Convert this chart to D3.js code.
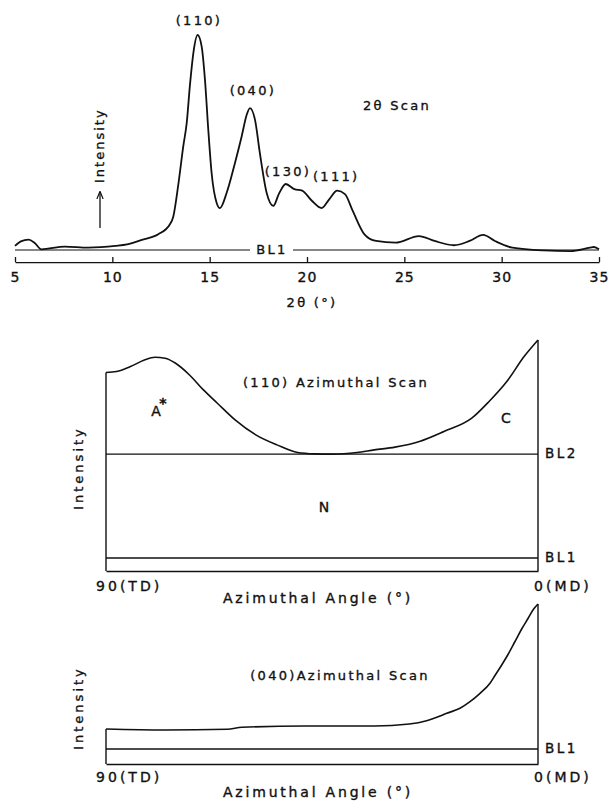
<!DOCTYPE html>
<html><head><meta charset="utf-8">
<script src="https://cdn.jsdelivr.net/npm/d3@7"></script>
<style>
body{margin:0;background:#fff}
svg{display:block;background:#fff}
text{font-family:"DejaVu Sans",sans-serif;fill:#111;stroke:#111;stroke-width:0.35px;font-size:13px;letter-spacing:2.3px}
</style>
</head><body><svg id="c" width="608" height="801"></svg>
<script>
// ---------- 2θ scan ----------
const scanTheta = [5.0,5.3,5.7,6.0,6.36,7.56,8.76,10.16,10.76,11.56,12.36,12.96,13.13,13.39,13.64,13.82,13.99,14.16,14.38,14.59,14.76,14.93,15.10,15.36,15.53,15.87,16.30,16.64,16.90,17.07,17.33,17.58,17.93,18.27,18.55,18.91,19.35,19.75,20.25,20.75,21.15,21.55,21.95,22.35,22.95,23.55,24.55,25.75,26.55,27.55,28.35,29.05,29.65,30.55,32.15,33.54,34.54,34.74,35.0];
const scanIntensity = [1.9,4.0,4.8,3.4,0.3,1.6,1.1,1.9,2.6,4.8,7.3,12.0,15.5,30.5,48,59,77,91.5,100,94.6,79,55.8,35.8,21.9,19.5,26.5,40.5,52.7,62.8,66,60.5,45,26.5,20.5,26.0,30.7,28.3,27.6,22.9,19.5,23.7,27.6,26.0,18.2,7.3,4.2,3.4,6.5,4.2,2.2,4.2,7.0,4.2,1.1,-0.2,-0.5,1.1,1.4,0.3];
const thetaTicks = [5,10,15,20,25,30,35];
const peakNames = ["(110)","(040)","(130)","(111)"];
const peakLabelTheta = [14.45,17.22,19.02,21.5];
const peakLabelIntensity = [106.5,73.5,36,33.6];

// ---------- (110) azimuthal scan ----------
const az110Angle = [90,87.8,84.9,82.0,79.8,77.7,75.5,72.6,69.7,66.8,63.1,58.8,54.4,50.1,46.5,42.8,37.7,34.1,29.8,24.7,19.6,13.8,10.2,6.5,2.9,0];
const az110Intensity = [185.7,186.7,191.7,198.3,201,200,195,183.3,168.3,155,138.3,123.3,113.3,105.7,104.3,104,105.7,108.3,111,116.7,126.7,140,156.7,176.7,201.7,218.3];
const az110Baselines = [0,104];
const az110BaselineNames = ["BL1","BL2"];

// ---------- (040) azimuthal scan ----------
const az040Angle = [90,77.8,64.7,61.7,48.6,34.1,26.8,23.2,20.42,19.02,16.25,14.17,12.08,10.0,8.96,7.56,6.19,4.79,3.40,2.02,0.98,0];
const az040Intensity = [20,19,19.7,21.7,23,23,25,28.3,33,35.7,40.7,47.3,55.7,65.7,73.5,84,95,107.5,120,131,139.5,145];
const az040Baselines = [0];
const az040BaselineNames = ["BL1"];

const azTicks = [90,0];
const azTickLabels = ["90(TD)","0(MD)"];

const svg = d3.select("#c");
const ink = "#111";

// ================= TOP PANEL =================
const xT = d3.scaleLinear().domain([5,35]).range([15,599]);
const yT = d3.scaleLinear().domain([0,100]).range([250,35]);
const axisYT = yT(-5.6);

const gAx = svg.append("g").attr("transform",`translate(0,${axisYT})`)
  .call(d3.axisBottom(xT).tickValues(thetaTicks).tickSizeInner(-5).tickSizeOuter(0).tickPadding(10).tickFormat(d3.format("d")));
gAx.select(".domain").attr("stroke",ink).attr("stroke-width",1.3);
gAx.selectAll(".tick line").attr("stroke",ink).attr("stroke-width",1.3);
gAx.selectAll(".tick text").style("font-size","14px").style("letter-spacing","1px").attr("fill",ink).attr("font-family",null);

svg.append("text").attr("x",312).attr("y",303).attr("text-anchor","middle").attr("dominant-baseline","middle").text("2θ (°)");

// BL1 line with gap for label
svg.append("line").attr("x1",xT(5)).attr("x2",250).attr("y1",yT(0)).attr("y2",yT(0)).attr("stroke",ink).attr("stroke-width",1.2);
svg.append("line").attr("x1",293).attr("x2",xT(35)).attr("y1",yT(0)).attr("y2",yT(0)).attr("stroke",ink).attr("stroke-width",1.2);
svg.append("text").attr("x",272).attr("y",yT(0)).attr("text-anchor","middle").attr("dominant-baseline","middle").text("BL1");

const lineT = d3.line().x((d,i)=>xT(scanTheta[i])).y((d,i)=>yT(scanIntensity[i])).curve(d3.curveMonotoneX);
svg.append("path").datum(scanTheta).attr("d",lineT).attr("fill","none").attr("stroke",ink).attr("stroke-width",1.8);

peakNames.forEach((n,i)=>{
  svg.append("text").attr("x",xT(peakLabelTheta[i])).attr("y",yT(peakLabelIntensity[i]))
    .attr("text-anchor","middle").attr("dominant-baseline","middle").text(n);
});
svg.append("text").attr("x",397).attr("y",106).attr("text-anchor","middle").attr("dominant-baseline","middle").text("2θ Scan");

// Intensity arrow label
svg.append("defs").append("marker").attr("id","ah").attr("viewBox","0 0 10 10").attr("refX",9).attr("refY",5)
  .attr("markerWidth",6).attr("markerHeight",6).attr("orient","auto")
  .append("path").attr("d","M0,1L10,5L0,9").attr("fill","none").attr("stroke",ink).attr("stroke-width",1.5);
svg.append("line").attr("x1",100).attr("x2",100).attr("y1",228).attr("y2",192).attr("stroke",ink).attr("stroke-width",1.3).attr("marker-end","url(#ah)");
svg.append("text").attr("transform","translate(100,183) rotate(-90)").attr("text-anchor","start").attr("dominant-baseline","middle").style("letter-spacing","2px").text("Intensity");

// ================= AZIMUTHAL PANELS =================
function azPanel(opts){
  const x = d3.scaleLinear().domain([90,0]).range([106,538]);
  const y = d3.scaleLinear().domain(opts.domain).range(opts.range);
  const angles = opts.angle, vals = opts.val;
  const floor = opts.domain[0];
  const g = svg.append("g").attr("transform",`translate(0,${y(floor)})`)
    .call(d3.axisBottom(x).tickValues(azTicks).tickSize(0).tickSizeOuter(0).tickPadding(opts.tickPad).tickFormat((d,i)=>azTickLabels[i]));
  g.select(".domain").attr("stroke",ink).attr("stroke-width",1.3);
  g.selectAll(".tick text").attr("font-family",null).attr("fill",ink)
    .style("font-size","14px").style("letter-spacing","3px").attr("text-anchor","start")
    .each(function(d,i){
      const lab = azTickLabels[i];
      const n = lab.indexOf("(");
      const w = this.getSubStringLength(0,n);
      d3.select(this).attr("x",-(w-3)/2);
    });
  svg.append("line").attr("x1",x(90)).attr("x2",x(90)).attr("y1",y(floor)).attr("y2",y(vals[0])).attr("stroke",ink).attr("stroke-width",1.4);
  svg.append("line").attr("x1",x(0)).attr("x2",x(0)).attr("y1",y(floor)).attr("y2",y(vals[vals.length-1])).attr("stroke",ink).attr("stroke-width",1.4);
  opts.bl.forEach((b,i)=>{
    svg.append("line").attr("x1",x(90)).attr("x2",x(0)).attr("y1",y(b)).attr("y2",y(b)).attr("stroke",ink).attr("stroke-width",1.3);
    svg.append("text").attr("x",x(0)+7).attr("y",y(b)).attr("dominant-baseline","middle").style("font-size","13.5px").style("letter-spacing","2.5px").text(opts.blNames[i]);
  });
  const ln = d3.line().x((d,i)=>x(angles[i])).y((d,i)=>y(vals[i])).curve(d3.curveMonotoneX);
  svg.append("path").datum(angles).attr("d",ln).attr("fill","none").attr("stroke",ink).attr("stroke-width",1.6);
  svg.append("text").attr("x",opts.titleX).attr("y",opts.titleY).attr("text-anchor","middle").attr("dominant-baseline","middle").style("font-size","13px").style("letter-spacing","2.3px").text(opts.title);
  svg.append("text").attr("x",318).attr("y",opts.xlabY).attr("text-anchor","middle").attr("dominant-baseline","middle").style("font-size","14px").style("letter-spacing","2.8px").text("Azimuthal Angle (°)");
  svg.append("text").attr("transform",`translate(79,${opts.ylabY}) rotate(-90)`).attr("text-anchor","middle").attr("dominant-baseline","middle").style("font-size","13px").style("letter-spacing","3px").text("Intensity");
  return {x,y};
}

azPanel({domain:[-13,218.3],range:[571,340],angle:az110Angle,val:az110Intensity,
  bl:az110Baselines,blNames:az110BaselineNames,tickPad:10,title:"(110) Azimuthal Scan",titleX:336,titleY:383,xlabY:599,ylabY:468});
svg.append("text").attr("x",156).attr("y",412).attr("text-anchor","middle").attr("dominant-baseline","middle").style("font-size","14px").style("letter-spacing","0px").text("A");
svg.append("text").attr("x",163).attr("y",404).attr("text-anchor","middle").attr("dominant-baseline","middle").style("font-size","14px").style("font-weight","bold").style("letter-spacing","0px").text("*");
svg.append("text").attr("x",506).attr("y",419).attr("text-anchor","middle").attr("dominant-baseline","middle").style("font-size","14px").style("letter-spacing","0px").text("C");
svg.append("text").attr("x",324).attr("y",508).attr("text-anchor","middle").attr("dominant-baseline","middle").style("font-size","14px").style("letter-spacing","0px").text("N");

azPanel({domain:[-15,145],range:[764,604],angle:az040Angle,val:az040Intensity,
  bl:az040Baselines,blNames:az040BaselineNames,tickPad:8,title:"(040)Azimuthal Scan",titleX:340,titleY:676,xlabY:793,ylabY:708});
</script>
</body></html>
